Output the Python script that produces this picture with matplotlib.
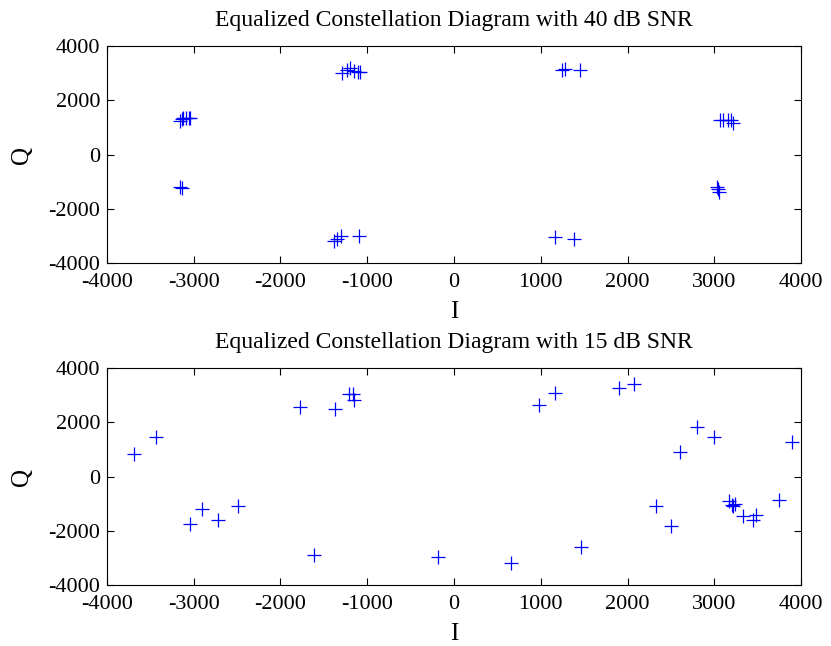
import matplotlib.pyplot as plt
import numpy as np

plt.rcParams['font.family'] = ['Liberation Serif', 'DejaVu Serif']
plt.rcParams['axes.unicode_minus'] = False

# Equalized symbols, 40 dB SNR
I_40 = [-1290, -1230, -1200, -1150, -1110, -1080,
        1250, 1280, 1450,
        -3160, -3140, -3120, -3090, -3060, -3040,
        -3160, -3130,
        3070, 3100, 3160, 3190, 3220,
        3030, 3040, 3050,
        -1380, -1350, -1300, -1100,
        1170, 1380]
Q_40 = [3010, 3120, 3180, 3080, 3030, 3030,
        3130, 3150, 3120,
        1250, 1300, 1330, 1360, 1350, 1360,
        -1200, -1250,
        1280, 1280, 1280, 1260, 1150,
        -1180, -1280, -1380,
        -3180, -3100, -3000, -3000,
        -3040, -3120]

# Equalized symbols, 15 dB SNR
I_15 = [-3690, -3440, -3040, -2900, -2720, -2490, -1780, -1610, -1370,
        -1210, -1170, -1150, -190, 660, 980, 1160, 1460, 1900, 2080,
        2330, 2500, 2600, 2800, 3000, 3170, 3210, 3240, 3220, 3330,
        3450, 3480, 3750, 3900]
Q_15 = [830, 1470, -1740, -1200, -1620, -1090, 2580, -2900, 2490,
        3030, 3050, 2820, -2970, -3190, 2650, 3090, -2590, 3250, 3420,
        -1080, -1830, 910, 1820, 1440, -920, -1050, -1020, -1090, -1460,
        -1600, -1410, -880, 1260]

titles = ['Equalized Constellation Diagram with 40 dB SNR',
          'Equalized Constellation Diagram with 15 dB SNR']
ticks = [-4000, -3000, -2000, -1000, 0, 1000, 2000, 3000, 4000]
yticks = [-4000, -2000, 0, 2000, 4000]

W, H = 831, 646
fig = plt.figure(figsize=(W / 100, H / 100), dpi=100)
# axes boxes in pixels: left, top, right, bottom
boxes = [(107, 46, 801, 263), (107, 368, 801, 585)]

for (l, t, r, b), title, xs, ys in zip(boxes, titles, [I_40, I_15], [Q_40, Q_15]):
    ax = fig.add_axes([l / W, 1 - b / H, (r - l) / W, (b - t) / H])
    ax.plot(xs, ys, '+', color='blue', markersize=10, markeredgewidth=0.9)
    ax.set_xlim(-4000, 4000)
    ax.set_ylim(-4000, 4000)
    ax.set_xticks(ticks)
    ax.set_yticks(yticks)
    ax.tick_params(direction='in', top=True, right=True, length=5, labelsize=16)
    ax.tick_params(axis='x', pad=7)
    ax.tick_params(axis='y', pad=5)
    ax.set_title(title, fontsize=17, pad=0, y=1.09)
    ax.set_xlabel('I', fontsize=18)
    ax.set_ylabel('Q', fontsize=18)
    ax.xaxis.set_label_coords(0.5, -0.175)
    ax.yaxis.set_label_coords(-0.107, 0.5)
    for s in ax.spines.values():
        s.set_linewidth(0.8)

fig.savefig('out.png', dpi=100)
